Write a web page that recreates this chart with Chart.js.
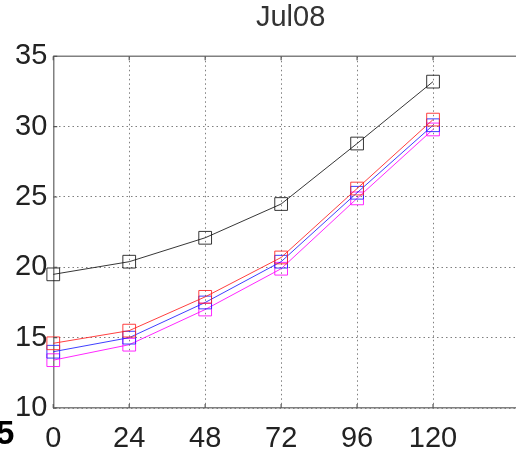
<!DOCTYPE html>
<html>
<head>
<meta charset="utf-8">
<script src="https://cdn.jsdelivr.net/npm/chart.js@4.4.1/dist/chart.umd.min.js"></script>
<style>
  body { margin: 0; background: #fff; overflow: hidden; width: 516px; height: 452px; position: relative; }
  #cut { position: absolute; left: -4px; top: 414px; font: bold 33px 'Liberation Sans', Arial, sans-serif; color: #000; }
</style>
</head>
<body>
<canvas id="myChart" width="538" height="452"></canvas>
<div id="cut">5</div>
<script>
"use strict";

// forecast hour
const hours = [0, 24, 48, 72, 96, 120];
// series
const blackVals = [19.5, 20.4, 22.1, 24.5, 28.8, 33.2];
const redVals = [14.6, 15.5, 17.9, 20.7, 25.6, 30.5];
const blueVals = [14.0, 15.0, 17.5, 20.4, 25.3, 30.1];
const magentaVals = [13.4, 14.5, 17.0, 19.9, 24.9, 29.8];
const yTicks = [10, 15, 20, 25, 30, 35];

const fontFamily = "'Liberation Sans', Arial, sans-serif";

function pts(vals) {
    return hours.map((h, i) => ({ x: h, y: vals[i] }));
}

function series(label, vals, color) {
    return {
        label: label,
        data: pts(vals),
        borderColor: color,
        backgroundColor: 'transparent',
        borderWidth: 1,
        pointStyle: 'rect',
        pointRadius: 9,
        pointBorderWidth: 1,
        pointBorderColor: color,
        pointBackgroundColor: 'transparent',
        tension: 0,
        clip: false
    };
}

// top border + inward ticks like matlab
const frame = {
    id: 'frame',
    afterDraw(chart) {
        const c = chart.ctx, a = chart.chartArea;
        const xs = chart.scales.x, ys = chart.scales.y;
        c.save();
        c.strokeStyle = '#808080';
        c.lineWidth = 1.5;
        c.beginPath();
        c.moveTo(a.left, a.top);
        c.lineTo(a.right, a.top);
        c.stroke();
        c.strokeStyle = '#555';
        c.lineWidth = 1.2;
        c.beginPath();
        xs.ticks.forEach(t => {
            const px = xs.getPixelForValue(t.value);
            c.moveTo(px, a.top); c.lineTo(px, a.top + 4);
            c.moveTo(px, a.bottom); c.lineTo(px, a.bottom - 4);
        });
        ys.ticks.forEach(t => {
            const py = ys.getPixelForValue(t.value);
            c.moveTo(a.left, py); c.lineTo(a.left + 4, py);
        });
        c.stroke();
        c.restore();
    }
};

let ctx = document.getElementById('myChart').getContext('2d');
let chart = new Chart(ctx, {
    type: 'line',
    data: {
        datasets: [
            series('black', blackVals, 'rgba(20,20,20,0.85)'),
            series('red', redVals, 'rgba(255,30,30,0.85)'),
            series('blue', blueVals, 'rgba(30,30,255,0.85)'),
            series('magenta', magentaVals, 'rgba(255,0,255,0.85)')
        ]
    },
    options: {
        responsive: false,
        animation: false,
        layout: { padding: { left: 9, right: 0, top: 0, bottom: -17 } },
        plugins: {
            legend: { display: false },
            tooltip: { enabled: false },
            title: {
                display: true,
                fullSize: false,
                text: 'Jul08',
                color: '#333',
                font: { family: fontFamily, size: 29, weight: 'normal', lineHeight: 1.2 },
                padding: { top: 1, bottom: 20.5 }
            }
        },
        scales: {
            x: {
                type: 'linear',
                min: 0,
                max: 150,
                afterBuildTicks: (axis) => {
                    axis.ticks = hours.map(h => ({ value: h }));
                },
                ticks: {
                    color: '#222',
                    font: { family: fontFamily, size: 29, lineHeight: 1 },
                    padding: 16,
                    maxRotation: 0,
                    autoSkip: false
                },
                grid: { color: 'rgba(0,0,0,0.5)', lineWidth: 1, drawTicks: false },
                border: { color: '#808080', width: 1.5, dash: [1.5, 3] }
            },
            y: {
                min: 10,
                max: 35,
                afterBuildTicks: (axis) => {
                    axis.ticks = yTicks.map(v => ({ value: v }));
                },
                ticks: {
                    color: '#222',
                    font: { family: fontFamily, size: 29, lineHeight: 1.2 },
                    padding: 6
                },
                grid: { color: 'rgba(0,0,0,0.5)', lineWidth: 1, drawTicks: false },
                border: { color: '#808080', width: 1.5, dash: [1.5, 3] }
            }
        }
    },
    plugins: [frame]
});
</script>
</body>
</html>
